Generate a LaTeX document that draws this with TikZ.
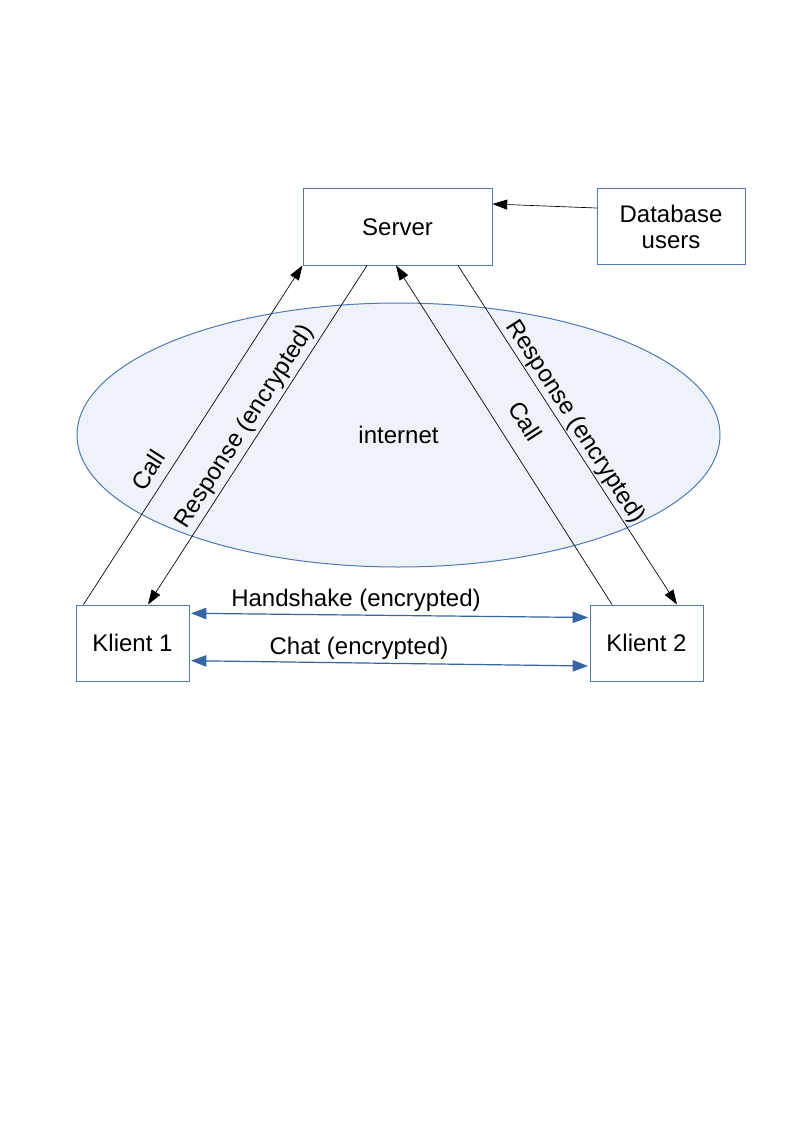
\documentclass[tikz,border=0pt]{standalone}
\usepackage{fontspec}
\setmainfont{Liberation Sans}
\usetikzlibrary{shapes.geometric,arrows.meta,calc}
\definecolor{boxblue}{HTML}{5079B3}
\definecolor{netfill}{HTML}{EEF3FA}
\definecolor{arrblue}{HTML}{3465A4}
\begin{document}
\begin{tikzpicture}[x=0.75pt,y=-0.75pt,
  font=\fontsize{18}{19.5}\selectfont,
  box/.style={draw=boxblue, line width=0.75pt, fill=white, inner sep=0pt, align=center},
  blk/.style={draw=black, line width=0.5pt, -{Triangle[length=11pt,width=7.5pt]}},
  blu/.style={draw=arrblue, line width=0.9pt, {Triangle[length=11.5pt,width=8.5pt]}-{Triangle[length=11.5pt,width=8.5pt]}},
  lbl/.style={inner sep=0pt}]
\useasboundingbox (0,0) rectangle (794,1123);
\fill[white] (0,0) rectangle (794,1123);

\node[ellipse, draw=boxblue, line width=0.75pt, fill=netfill, inner sep=0pt,
      minimum width=643*0.75pt, minimum height=264*0.75pt] (net) at (398.5,435) {internet};

\node[box, minimum width=189*0.75pt, minimum height=76*0.75pt] (server) at (397.5,227) {Server};
\node[box, minimum width=148*0.75pt, minimum height=75*0.75pt] (db) at (671,226.5) {Database\\users};
\node[box, minimum width=113*0.75pt, minimum height=76*0.75pt] (k1) at (132.5,643) {Klient 1};
\node[box, minimum width=113*0.75pt, minimum height=76*0.75pt] (k2) at (646.5,643) {Klient 2};

% DB -> Server
\draw[blk] ($(db.west)+(0,-18.5)$) -- ($(server.east)+(0,-23)$);

% Left side
\draw[blk] ($(k1.north west)+(8,0)$) -- (server.south west);
\draw[blk] ($(server.south)+(-30.5,0)$) -- ($(k1.north)+(15.5,0)$);
% Right side
\draw[blk] ($(k2.north)+(-34.5,0)$) -- ($(server.south)+(-1.5,0)$);
\draw[blk] ($(server.south)+(60.5,0)$) -- ($(k2.north)+(30.5,0)$);

% Client to client
\draw[blu] ($(k1.east)+(1.5,-29.7)$) -- ($(k2.west)+(-1.5,-25.5)$);
\draw[blu] ($(k1.east)+(1.5,17.7)$) -- ($(k2.west)+(-1.5,23)$);

% Labels
\node[lbl, rotate=57.2] (lcall) at (148,470) {Call};
\node[lbl, rotate=57.2] (lresp) at (245,427) {Response (encrypted)};
\node[lbl, rotate=-57.2] (rcall) at (525.5,421) {Call};
\node[lbl, rotate=-57.2] (rresp) at (575,422) {Response (encrypted)};
\node[lbl] (hs) at (356,600) {Handshake (encrypted)};
\node[lbl] (chat) at (359,648) {Chat (encrypted)};
\end{tikzpicture}
\end{document}
